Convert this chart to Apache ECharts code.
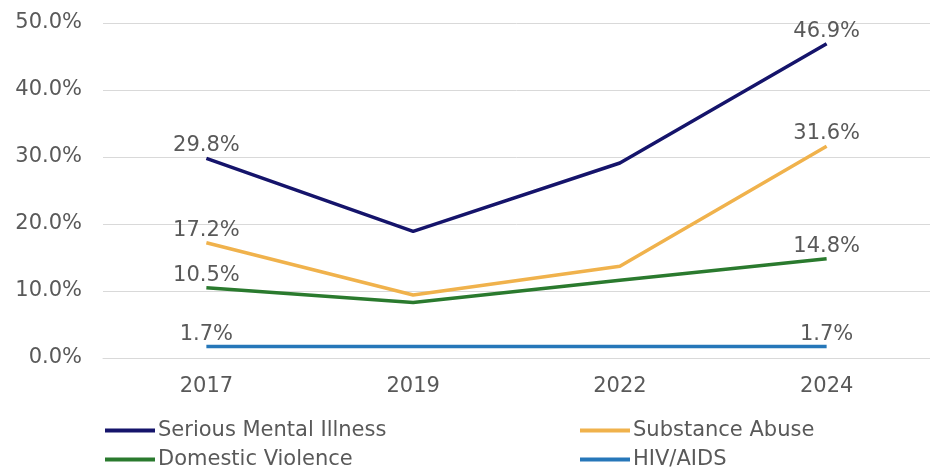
<!DOCTYPE html>
<html><head><meta charset="utf-8">
<script src="https://cdn.jsdelivr.net/npm/echarts@6/dist/echarts.min.js"></script>
<style>html,body{margin:0;padding:0;background:#fff}#c{width:930px;height:470px}</style>
</head><body><div id="c"></div>
<script>
const categories = ['2017', '2019', '2022', '2024'];
const seriesNames = ['Serious Mental Illness', 'Substance Abuse', 'Domestic Violence', 'HIV/AIDS'];
const seriousMentalIllness = [29.8, 18.9, 29.1, 46.9];
const substanceAbuse = [17.2, 9.4, 13.7, 31.6];
const domesticViolence = [10.5, 8.3, 11.6, 14.8];
const hivAids = [1.7, 1.7, 1.7, 1.7];
const yTicks = [0, 10, 20, 30, 40, 50];

const colors = ['#15146b', '#f0b24c', '#2a7a2e', '#2677b9'];
const values = [seriousMentalIllness, substanceAbuse, domesticViolence, hivAids];
const textColor = '#595959';
const font = 'DejaVu Sans, sans-serif';
const fs = 21;
const legendPos = [[105, 420], [580, 420], [105, 449], [580, 449]];

const chart = echarts.init(document.getElementById('c'), null, {renderer: 'canvas'});
chart.setOption({
  animation: false,
  backgroundColor: '#fff',
  grid: {left: 103, width: 828, top: 23, bottom: 112, containLabel: false},
  xAxis: {
    type: 'category', data: categories, boundaryGap: true,
    axisLine: {show: true, lineStyle: {color: '#d9d9d9', width: 1}},
    axisTick: {show: false},
    axisLabel: {color: textColor, fontSize: fs, fontFamily: font, margin: 18}
  },
  yAxis: {
    type: 'value', min: yTicks[0], max: yTicks[yTicks.length - 1], interval: 10,
    axisLine: {show: false}, axisTick: {show: false},
    splitLine: {lineStyle: {color: '#d9d9d9', width: 1}},
    axisLabel: {color: textColor, fontSize: fs, fontFamily: font, margin: 21,
      formatter: v => v.toFixed(1) + '%'}
  },
  legend: seriesNames.map((name, i) => ({
    data: [name], left: legendPos[i][0], top: legendPos[i][1],
    itemWidth: 50, itemHeight: 4, icon: 'rect', padding: 0,
    textStyle: {color: textColor, fontSize: fs, fontFamily: font, padding: [0, 0, 0, -2]}
  })),
  series: seriesNames.map((name, i) => ({
    name, type: 'line', data: values[i].map((v, j) => ({
      value: v,
      label: {show: j === 0 || j === values[i].length - 1}
    })),
    color: colors[i],
    lineStyle: {color: colors[i], width: 3.5},
    itemStyle: {color: colors[i]},
    symbol: 'circle', symbolSize: 0, showSymbol: true,
    label: {show: false, position: 'top', distance: 2, color: textColor, fontSize: fs, fontFamily: font,
      formatter: p => p.value.toFixed(1) + '%'},
    z: 10 - i
  }))
});
</script></body></html>
